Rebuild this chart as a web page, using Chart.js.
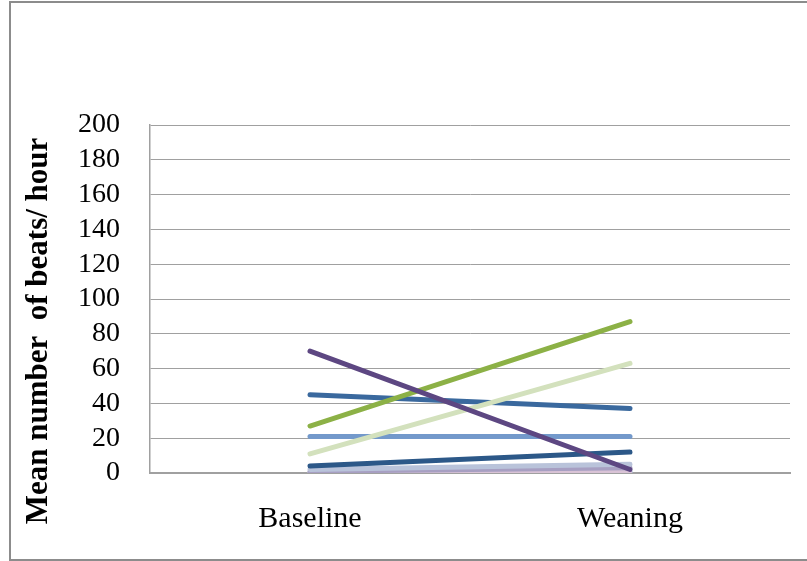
<!DOCTYPE html>
<html>
<head>
<meta charset="utf-8">
<script src="https://cdn.jsdelivr.net/npm/chart.js@4"></script>
<style>
  html, body { margin: 0; padding: 0; background: #fff; }
  #wrap { position: relative; width: 807px; height: 561px; overflow: hidden; }
  #frame { position: absolute; left: 9px; top: 1px; width: 900px; height: 560px; box-sizing: border-box; border: 2px solid #8c8c8c; }
  canvas { position: absolute; left: 0; top: 0; }
</style>
</head>
<body>
<div id="wrap">
  <div id="frame"></div>
  <canvas id="c" width="807" height="561"></canvas>
</div>
<script>
// two time points, one line per animal
const categories = ["Baseline", "Weaning"];
const yTicks = [0, 20, 40, 60, 80, 100, 120, 140, 160, 180, 200];
const yTitle = "Mean number  of beats/ hour";

const purple = [70, 2];
const green = [27, 87];
const lightGreen = [11, 63];
const steelBlue = [45, 37];
const lightBlue = [21, 21];
const darkBlue = [4, 12];
const lavender = [2, 5];
const greyPurple = [1, 3];
const pink = [0.5, 0.5];
const teal = [0, 0.5];

const series = [
  { label: "Series 1", data: purple, color: "#5d4782" },
  { label: "Series 2", data: green, color: "#8cb146" },
  { label: "Series 3", data: lightGreen, color: "#d3e1bd" },
  { label: "Series 4", data: steelBlue, color: "#3a699e" },
  { label: "Series 5", data: lightBlue, color: "#7399cb" },
  { label: "Series 6", data: darkBlue, color: "#2c5888" },
  { label: "Series 7", data: lavender, color: "#b9c3da" },
  { label: "Series 8", data: greyPurple, color: "#a79fc2" },
  { label: "Series 9", data: pink, color: "#d9c3d6" },
  { label: "Series 10", data: teal, color: "#4bacc6" },
];

// y title drawn by hand: Excel puts it lower than the plot centre
const titlePlugin = {
  id: "ytitle",
  afterDraw(chart) {
    const ctx = chart.ctx;
    ctx.save();
    ctx.translate(39, 331);
    ctx.rotate(-Math.PI / 2);
    ctx.font = "bold 31px 'Liberation Serif', 'Times New Roman', serif";
    ctx.fillStyle = "#000";
    ctx.textAlign = "center";
    ctx.textBaseline = "middle";
    ctx.fillText(yTitle, 0, 0);
    ctx.restore();
  },
};

new Chart(document.getElementById("c"), {
  type: "line",
  data: {
    labels: categories,
    datasets: series.map((s) => ({
      label: s.label,
      data: s.data,
      borderColor: s.color,
      backgroundColor: s.color,
      borderWidth: 5,
      pointRadius: 0,
      borderCapStyle: "round",
      tension: 0,
    })),
  },
  options: {
    responsive: false,
    animation: false,
    layout: { padding: { left: 0, top: 125, right: 17, bottom: 0 } },
    plugins: { legend: { display: false }, tooltip: { enabled: false } },
    scales: {
      x: {
        offset: true,
        grid: { display: false, drawTicks: false },
        border: { display: true, color: "#a0a0a0", width: 2 },
        ticks: {
          color: "#000",
          padding: 28,
          font: { family: "'Liberation Serif', 'Times New Roman', serif", size: 30 },
        },
        afterFit: (s) => { s.height = 88; },
      },
      y: {
        min: 0,
        max: 200,
        afterBuildTicks: (s) => { s.ticks = yTicks.map((v) => ({ value: v })); },
        grid: { color: "#a0a0a0", lineWidth: 1, drawTicks: false },
        border: { display: true, color: "#a0a0a0", width: 1.5 },
        ticks: {
          color: "#000",
          padding: 30,
          autoSkip: false,
          font: { family: "'Liberation Serif', 'Times New Roman', serif", size: 28 },
        },
        afterFit: (s) => { s.width = 150; },
      },
    },
  },
  plugins: [titlePlugin],
});
</script>
</body>
</html>
